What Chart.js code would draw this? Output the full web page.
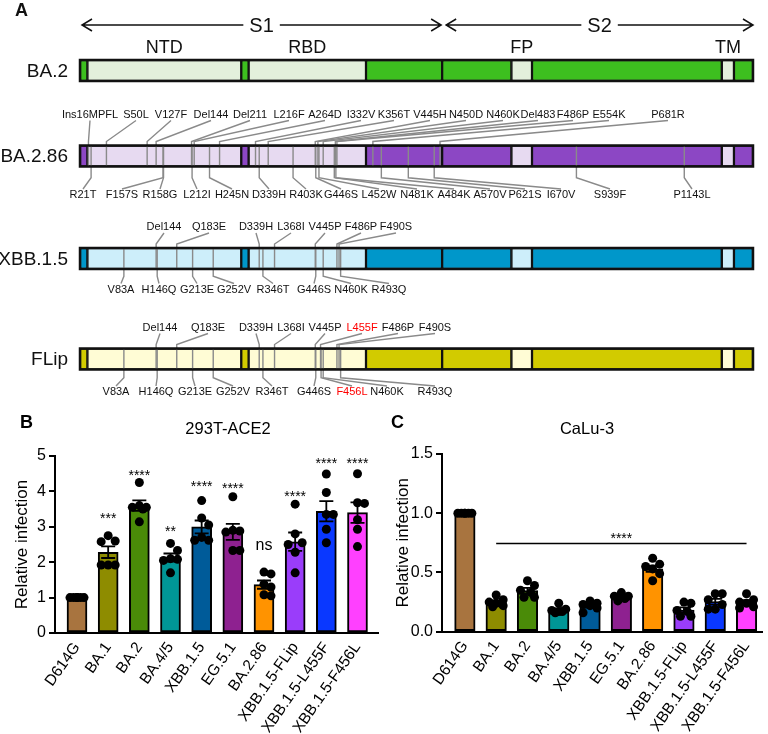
<!DOCTYPE html>
<html>
<head>
<meta charset="utf-8">
<script src="https://cdn.jsdelivr.net/npm/chart.js@4.4.1/dist/chart.umd.min.js"></script>
<style>
  body { margin: 0; background: #fff; }
  #wrap { position: relative; width: 768px; height: 734px; overflow: hidden; }
  canvas { position: absolute; }
</style>
</head>
<body>
<div id="wrap">
  <canvas id="schem" width="768" height="405" style="left:0;top:0"></canvas>
  <canvas id="ace" width="384" height="329" style="left:0;top:405px"></canvas>
  <canvas id="calu" width="384" height="329" style="left:384px;top:405px"></canvas>
</div>
<script>
const FONT = 'Arial, "Liberation Sans", sans-serif';
Chart.defaults.font.family = FONT;
Chart.defaults.color = '#000';

// ---- panel A : spike schematic ----
const rowNames = ['BA.2', 'BA.2.86', 'XBB.1.5', 'FLip'];
const darkCols = ['#3dbf1f', '#8c47c4', '#0097ca', '#d2cb00'];
const lightCols = ['#e3f0dc', '#e7daf1', '#cdeefa', '#fffcd5'];
const segStart = [0, 14, 305, 319, 541, 685, 816, 855, 1214, 1237];
const segEnd = [14, 305, 319, 541, 685, 816, 855, 1214, 1237, 1273];
const segLight = [false, true, false, true, false, false, true, false, true, false];
const domainNames = ['NTD', 'RBD', 'FP', 'TM'];
const domainSeg = [1, 3, 6, 8];
const subunitNames = ['S1', 'S2'];
const subunitStart = [0, 685];
const subunitEnd = [685, 1273];
const mutTop = [
  [],
  ['Ins16MPFL', 'S50L', 'V127F', 'Del144', 'Del211', 'L216F', 'A264D', 'I332V', 'K356T', 'V445H', 'N450D', 'N460K', 'Del483', 'F486P', 'E554K', 'P681R'],
  ['Del144', 'Q183E', 'D339H', 'L368I', 'V445P', 'F486P', 'F490S'],
  ['Del144', 'Q183E', 'D339H', 'L368I', 'V445P', 'L455F', 'F486P', 'F490S']
];
const mutBottom = [
  [],
  ['R21T', 'F157S', 'R158G', 'L212I', 'H245N', 'D339H', 'R403K', 'G446S', 'L452W', 'N481K', 'A484K', 'A570V', 'P621S', 'I670V', 'S939F', 'P1143L'],
  ['V83A', 'H146Q', 'G213E', 'G252V', 'R346T', 'G446S', 'N460K', 'R493Q'],
  ['V83A', 'H146Q', 'G213E', 'G252V', 'R346T', 'G446S', 'F456L', 'N460K', 'R493Q']
];
const highlighted = ['L455F', 'F456L'];

// layout of the schematic (pixels)
const BAR_H = 21;
const rowY = [70.5, 156, 258.5, 359];
const topLabelY = [0, 114.5, 227, 327.5];
const botLabelY = [0, 195, 289.5, 392];
const topLabelX = [
  [],
  [90, 136, 171, 211, 250, 289, 325, 361, 394, 430, 466, 503, 538, 573, 609, 668],
  [164, 209, 256, 291, 325, 361, 396],
  [160, 208, 256, 291, 325, 362, 398, 435]
];
const botLabelX = [
  [],
  [83, 122, 160, 197, 232, 269, 306, 341, 379, 417, 454, 490, 525, 561, 610, 692],
  [121, 159, 197, 234, 273, 314, 351, 389],
  [116, 156, 195, 233, 272, 314, 352, 387, 435]
];

const residue = m => +m.match(/\d+/)[0];

const schematicPlugin = {
  id: 'schematic',
  afterDatasetsDraw(chart) {
    const { ctx, scales: { x } } = chart;
    const px = v => x.getPixelForValue(v);
    const x0 = px(segStart[0]), x1 = px(segEnd[segEnd.length - 1]);
    ctx.save();

    rowNames.forEach((name, j) => {
      const top = rowY[j] - BAR_H / 2, bot = rowY[j] + BAR_H / 2;
      // mutation leader lines
      ctx.strokeStyle = '#8a8a8a';
      ctx.lineWidth = 1.4;
      mutTop[j].forEach((m, k) => {
        const mx = px(residue(m));
        ctx.beginPath();
        ctx.moveTo(topLabelX[j][k], topLabelY[j] + 6);
        ctx.lineTo(mx, top - 4);
        ctx.lineTo(mx, bot);
        ctx.stroke();
      });
      mutBottom[j].forEach((m, k) => {
        const mx = px(residue(m));
        const g = Math.max(4, (botLabelY[j] - 6 - bot) * 0.5);
        ctx.beginPath();
        ctx.moveTo(mx, top);
        ctx.lineTo(mx, bot + g);
        ctx.lineTo(botLabelX[j][k], botLabelY[j] - 6);
        ctx.stroke();
      });
      // outline
      ctx.lineWidth = 2.5;
      ctx.strokeStyle = '#111';
      ctx.strokeRect(x0, top, x1 - x0, BAR_H);
      // mutation labels
      ctx.font = '11px ' + FONT;
      ctx.textAlign = 'center';
      ctx.textBaseline = 'middle';
      mutTop[j].forEach((m, k) => {
        ctx.fillStyle = highlighted.includes(m) ? '#ff0000' : '#111';
        ctx.fillText(m, topLabelX[j][k], topLabelY[j]);
      });
      mutBottom[j].forEach((m, k) => {
        ctx.fillStyle = highlighted.includes(m) ? '#ff0000' : '#111';
        ctx.fillText(m, botLabelX[j][k], botLabelY[j]);
      });
      // variant name
      ctx.fillStyle = '#111';
      ctx.font = '19px ' + FONT;
      ctx.textAlign = 'right';
      ctx.fillText(name, 68, rowY[j] + 1);
    });

    // domain names
    ctx.font = '18px ' + FONT;
    ctx.textAlign = 'center';
    ctx.fillStyle = '#111';
    domainNames.forEach((d, k) => {
      const s = domainSeg[k];
      ctx.fillText(d, px((segStart[s] + segEnd[s]) / 2), 48);
    });

    // S1 / S2 arrows
    const ay = 25;
    ctx.strokeStyle = '#111';
    ctx.lineWidth = 1.5;
    subunitNames.forEach((n, k) => {
      const a = px(subunitStart[k]) + (k ? 4 : 2), b = px(subunitEnd[k]) - (k ? 0 : 1);
      ctx.beginPath();
      ctx.moveTo(a, ay); ctx.lineTo(b, ay);
      ctx.moveTo(a + 10, ay - 6); ctx.lineTo(a, ay); ctx.lineTo(a + 10, ay + 6);
      ctx.moveTo(b - 10, ay - 6); ctx.lineTo(b, ay); ctx.lineTo(b - 10, ay + 6);
      ctx.stroke();
      ctx.font = '20px ' + FONT;
      const cx = (a + b) / 2, w = ctx.measureText(n).width;
      ctx.fillStyle = '#fff';
      ctx.fillRect(cx - w / 2 - 6, ay - 10, w + 12, 20);
      ctx.fillStyle = '#111';
      ctx.fillText(n, cx, ay + 1);
    });

    ctx.font = 'bold 18px ' + FONT;
    ctx.textAlign = 'left';
    ctx.fillText('A', 15, 11);
    ctx.restore();
  }
};

new Chart(document.getElementById('schem'), {
  type: 'bar',
  data: {
    datasets: segStart.map((s, k) => ({
      data: rowNames.map((n, j) => ({ y: rowY[j], x: [segStart[k], segEnd[k]] })),
      backgroundColor: rowNames.map((n, j) => segLight[k] ? lightCols[j] : darkCols[j]),
      borderColor: '#111',
      borderWidth: 1.5,
      borderSkipped: false,
      barThickness: BAR_H,
      grouped: false
    }))
  },
  options: {
    indexAxis: 'y',
    responsive: false,
    animation: false,
    layout: { padding: { left: 80, right: 15, top: 0, bottom: 0 } },
    scales: {
      x: { type: 'linear', min: 0, max: 1273, display: false },
      y: { type: 'linear', min: 0, max: 405, reverse: true, display: false, offset: false }
    },
    plugins: { legend: { display: false }, tooltip: { enabled: false } }
  },
  plugins: [schematicPlugin]
});

// ---- panels B and C : relative infection ----
const variants = ['D614G', 'BA.1', 'BA.2', 'BA.4/5', 'XBB.1.5', 'EG.5.1', 'BA.2.86', 'XBB.1.5-FLip', 'XBB.1.5-L455F', 'XBB.1.5-F456L'];
const barColors = ['#a8743f', '#8e8c00', '#4a8b08', '#009696', '#005b99', '#8e2190', '#ff9300', '#9a3dfa', '#0a38ff', '#ff40ff'];

const aceValues = [
  [1, 1, 1, 1, 1, 1],
  [2.75, 2.58, 2.6, 1.92, 1.92, 1.92],
  [4.25, 3.55, 3.6, 3.5, 3.55, 3.14],
  [2.53, 2.33, 2.08, 2.1, 1.7, 2.05],
  [3.74, 3.25, 3.05, 2.62, 2.62, 2.7],
  [3.85, 2.9, 2.88, 2.85, 2.33, 2.33],
  [1.67, 1.72, 1.38, 1.3, 1.05, 1.08],
  [3.64, 2.8, 2.55, 2.5, 2.28, 1.7],
  [4.49, 3.97, 3.35, 3.35, 2.93, 2.55],
  [4.5, 3.68, 3.66, 3.2, 2.93, 2.44]
];
const aceSig = ['', '***', '****', '**', '****', '****', 'ns', '****', '****', '****'];
const aceSigY = [0, 3.33, 4.56, 2.97, 4.25, 4.18, 2.46, 3.96, 4.89, 4.89];
const aceTicks = [0, 1, 2, 3, 4, 5];

const caluValues = [
  [1, 1, 1, 1, 1, 1],
  [0.31, 0.27, 0.25, 0.24, 0.22, 0.21],
  [0.43, 0.39, 0.35, 0.33, 0.29, 0.29],
  [0.24, 0.19, 0.18, 0.17, 0.16, 0.17],
  [0.26, 0.24, 0.23, 0.22, 0.2, 0.16],
  [0.33, 0.3, 0.3, 0.29, 0.28, 0.26],
  [0.62, 0.57, 0.55, 0.53, 0.49, 0.43],
  [0.25, 0.24, 0.18, 0.17, 0.13, 0.13],
  [0.32, 0.32, 0.27, 0.23, 0.19, 0.19],
  [0.32, 0.27, 0.25, 0.24, 0.2, 0.21]
];
const caluSig = '****';
const caluSigFrom = 1, caluSigTo = 9;
const caluSigY = 0.745;
const caluTicks = [0, 0.5, 1.0, 1.5];

// spread the dots sideways so they don't pile on each other (like a scatter dot plot)
function swarm(chart, groups, r, spread) {
  const xs = chart.scales.x, ys = chart.scales.y;
  const unit = xs.getPixelForValue(1) - xs.getPixelForValue(0);
  const pts = [];
  groups.forEach((vals, i) => {
    const placed = [];
    const idx = vals.map((v, k) => k).sort((a, b) => vals[b] - vals[a]);
    idx.forEach(k => {
      const py = ys.getPixelForValue(vals[k]);
      let best = 0, bestD = -1;
      for (const c of [0, 1, -1, 0.5, -0.5].map(f => f * spread)) {
        const d = Math.min(...placed.map(p => Math.hypot(p[0] - c, p[1] - py)));
        if (d >= 2 * r) { best = c; break; }
        if (d > bestD) { bestD = d; best = c; }
      }
      placed.push([best, py]);
      pts.push({ x: i + best / unit, y: vals[k] });
    });
  });
  return pts;
}

function makePanel(id, groups, cfg) {
  const means = groups.map(v => v.reduce((a, b) => a + b, 0) / v.length);
  const sems = groups.map((v, i) =>
    Math.sqrt(v.reduce((a, b) => a + (b - means[i]) ** 2, 0) / (v.length - 1) / v.length));

  const overlay = {
    id: 'overlay',
    afterDatasetsDraw(chart) {
      const { ctx, scales: { x, y } } = chart;
      ctx.save();
      ctx.strokeStyle = '#000';
      ctx.lineWidth = 1.8;
      means.forEach((m, i) => {
        if (!sems[i]) return;
        const cx = x.getPixelForValue(i);
        const t = y.getPixelForValue(m + sems[i]), b = y.getPixelForValue(m - sems[i]);
        ctx.beginPath();
        ctx.moveTo(cx, t); ctx.lineTo(cx, b);
        ctx.moveTo(cx - 7, t); ctx.lineTo(cx + 7, t);
        ctx.moveTo(cx - 7, b); ctx.lineTo(cx + 7, b);
        ctx.stroke();
      });
      ctx.fillStyle = '#000';
      ctx.textAlign = 'center';
      ctx.textBaseline = 'alphabetic';
      cfg.drawSig(ctx, x, y);
      ctx.font = '16.5px ' + FONT;
      ctx.textBaseline = 'middle';
      ctx.fillText(cfg.title, cfg.titleX, 24);
      ctx.font = 'bold 18px ' + FONT;
      ctx.textAlign = 'left';
      ctx.fillText(cfg.letter, cfg.letterX, 18);
      ctx.restore();
    }
  };

  const chart = new Chart(document.getElementById(id), {
    type: 'bar',
    data: {
      datasets: [
        {
          type: 'scatter',
          data: [],
          pointRadius: 4.5,
          pointBorderWidth: 0,
          backgroundColor: '#000',
          borderColor: '#000',
          order: 1
        },
        {
          data: means.map((m, i) => ({ x: i, y: m })),
          backgroundColor: barColors,
          borderColor: '#000',
          borderWidth: 2,
          borderSkipped: false,
          barThickness: cfg.barW,
          order: 2
        }
      ]
    },
    options: {
      responsive: false,
      animation: false,
      layout: { padding: { left: 0, right: 384 - cfg.right, top: cfg.top, bottom: 0 } },
      scales: {
        x: {
          type: 'linear',
          min: cfg.xMin,
          max: cfg.xMax,
          offset: false,
          grid: { display: false, drawTicks: false, offset: false },
          border: { display: true, color: '#000', width: 2 },
          afterBuildTicks: s => { s.ticks = variants.map((v, i) => ({ value: i })); },
          afterFit: s => { s.height = 329 - cfg.bottom; },
          ticks: {
            autoSkip: false,
            minRotation: 55,
            maxRotation: 55,
            padding: 6,
            font: { size: 15.5 },
            color: '#000',
            callback: v => variants[v]
          }
        },
        y: {
          min: 0,
          max: cfg.ticks[cfg.ticks.length - 1],
          afterBuildTicks: s => { s.ticks = cfg.ticks.map(v => ({ value: v })); },
          afterFit: s => { s.width = cfg.left; },
          grid: { display: true, drawOnChartArea: false, drawTicks: true, tickLength: 6, color: '#000', lineWidth: 2 },
          border: { display: true, color: '#000', width: 2 },
          ticks: { font: { size: 16 }, color: '#000', padding: 3, callback: cfg.fmt },
          title: { display: true, text: 'Relative infection', font: { size: 17 }, color: '#000', padding: { top: cfg.titlePad, bottom: 0 } }
        }
      },
      plugins: { legend: { display: false }, tooltip: { enabled: false } }
    },
    plugins: [overlay]
  });
  chart.data.datasets[0].data = swarm(chart, groups, 4.5, 7);
  chart.update('none');
}

makePanel('ace', aceValues, {
  left: 55, right: 378, top: 51, bottom: 228,
  xMin: -0.706, xMax: 9.658, barW: 20,
  ticks: aceTicks, fmt: v => String(v), titlePad: 12,
  title: '293T-ACE2', titleX: 228, letter: 'B', letterX: 20,
  drawSig(ctx, x, y) {
    aceSig.forEach((s, i) => {
      if (!s) return;
      const fs = s === 'ns' ? 16 : 14;
      ctx.font = fs + 'px ' + FONT;
      ctx.fillText(s, x.getPixelForValue(i), y.getPixelForValue(aceSigY[i]) + (s === 'ns' ? 0.26 : 0.57) * fs);
    });
  }
});

makePanel('calu', caluValues, {
  left: 58, right: 380, top: 49, bottom: 226.7,
  xMin: -0.731, xMax: 9.509, barW: 20.5,
  ticks: caluTicks, fmt: v => v.toFixed(1), titlePad: 9,
  title: 'CaLu-3', titleX: 203, letter: 'C', letterX: 7,
  drawSig(ctx, x, y) {
    const a = x.getPixelForValue(caluSigFrom), b = x.getPixelForValue(caluSigTo), yy = y.getPixelForValue(caluSigY);
    ctx.strokeStyle = '#000';
    ctx.lineWidth = 1.5;
    ctx.beginPath(); ctx.moveTo(a, yy); ctx.lineTo(b, yy); ctx.stroke();
    ctx.font = '14px ' + FONT;
    ctx.fillText(caluSig, (a + b) / 2, yy - 8.3 + 0.57 * 14);
  }
});
</script>
</body>
</html>
